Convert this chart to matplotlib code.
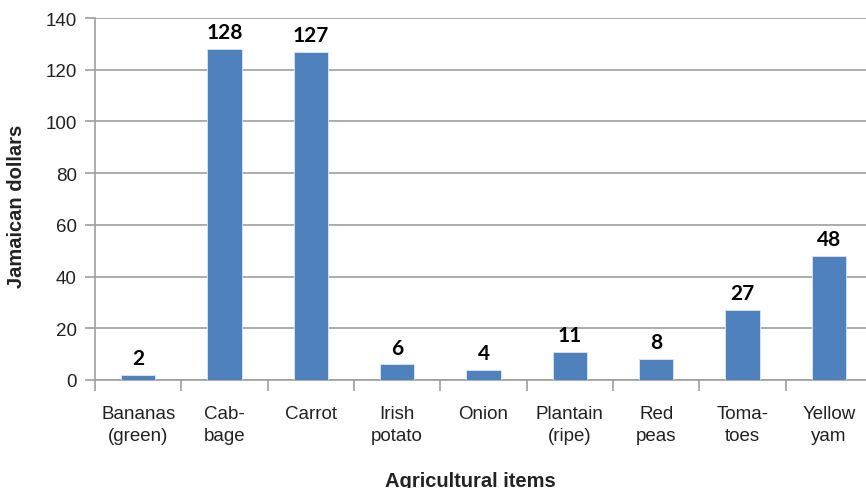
import matplotlib
matplotlib.use("Agg")
import matplotlib.pyplot as plt

items = ["Bananas\n(green)", "Cab-\nbage", "Carrot\n", "Irish\npotato", "Onion\n",
         "Plantain\n(ripe)", "Red\npeas", "Toma-\ntoes", "Yellow\nyam"]
prices = [2, 128, 127, 6, 4, 11, 8, 27, 48]
yticks = [0, 20, 40, 60, 80, 100, 120, 140]

plt.rcParams['font.family'] = ['Liberation Sans', 'DejaVu Sans']

fig = plt.figure(figsize=(8.66, 4.89), dpi=100)
W, H = 866, 489
# axes box in pixels: left 95, right 872 (clipped by figure), top 19, bottom 381
ax = fig.add_axes([95 / W, (H - 381) / H, (872 - 95) / W, (381 - 19) / H])

pos = list(range(len(items)))
bars = ax.bar(pos, prices, width=0.4, color='#4f81bd', edgecolor='#dce6f2', linewidth=0.6, zorder=3)

for x, v in zip(pos, prices):
    ax.annotate(str(v), (x, v), xytext=(0, 5), textcoords='offset points',
                ha='center', va='bottom', fontsize=15, fontweight='bold',
                family=['Lato', 'DejaVu Sans'], color='black')

ax.set_xlim(-0.5, len(items) - 0.5)
ax.set_ylim(0, 140)
ax.set_yticks(yticks)
ax.set_yticklabels([str(t) for t in yticks], fontsize=13.5, color='#222222')
ax.yaxis.grid(True, color='#9e9e9e', linewidth=1.2, zorder=0)

# category labels centred, tick marks on the boundaries
ax.set_xticks(pos)
ax.set_xticklabels(items, fontsize=13.5, color='#222222', linespacing=1.38)
ax.tick_params(axis='x', which='major', length=0, pad=18)
ax.set_xticks([p - 0.5 for p in pos] + [len(items) - 0.5], minor=True)
ax.tick_params(axis='x', which='minor', length=8, width=1.2, color='#9e9e9e', direction='out')
ax.tick_params(axis='y', length=7, width=1.2, color='#9e9e9e', pad=6)

for s in ['top', 'right']:
    ax.spines[s].set_visible(False)
for s in ['left', 'bottom']:
    ax.spines[s].set_color('#9e9e9e')
    ax.spines[s].set_linewidth(1.2)

fig.text(17 / W, 1 - 206 / H, 'Jamaican dollars', fontsize=14.5, fontweight='bold',
         color='#222222', ha='center', va='center', rotation=90)
fig.text(470 / W, 1 - 482 / H, 'Agricultural items', fontsize=14.5, fontweight='bold',
         color='#222222', ha='center', va='center')

fig.savefig('out.png', dpi=100)
